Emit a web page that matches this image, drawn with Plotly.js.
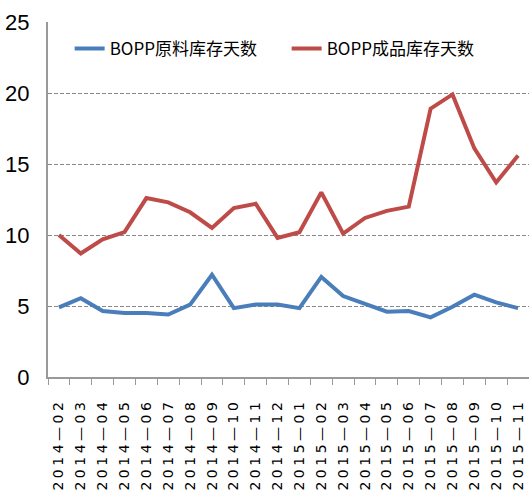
<!DOCTYPE html>
<html>
<head>
<meta charset="utf-8">
<script src="https://cdn.plot.ly/plotly-3.0.1.min.js"></script>
<style>
html,body{margin:0;padding:0;background:#fff;}
#chart{width:529px;height:498px;}
.xtick text{letter-spacing:3.5px;}
</style>
</head>
<body>
<div id="chart"></div>
<script>
var months = ["2014-02","2014-03","2014-04","2014-05","2014-06","2014-07","2014-08","2014-09","2014-10","2014-11","2014-12","2015-01","2015-02","2015-03","2015-04","2015-05","2015-06","2015-07","2015-08","2015-09","2015-10","2015-11"];
var rawDays = [4.9,5.55,4.65,4.5,4.5,4.4,5.1,7.2,4.85,5.1,5.1,4.85,7.05,5.7,5.15,4.6,4.65,4.2,4.95,5.8,5.25,4.85];
var finishedDays = [10.0,8.7,9.7,10.2,12.6,12.3,11.6,10.5,11.9,12.2,9.8,10.2,13.0,10.1,11.2,11.7,12.0,18.9,19.9,16.1,13.7,15.6];
var seriesNames = ["BOPP原料库存天数","BOPP成品库存天数"];
var yTicks = [0,5,10,15,20,25];

var tickLabels = months.map(function(m){ return m.replace("-", "\u2014"); });

var traces = [
  {x: months, y: rawDays, name: seriesNames[0], type: "scatter", mode: "lines",
   line: {color: "#4A7EBB", width: 4}},
  {x: months, y: finishedDays, name: seriesNames[1], type: "scatter", mode: "lines",
   line: {color: "#BE4B48", width: 4}}
];

var layout = {
  width: 529, height: 498,
  margin: {l: 48, r: 0, t: 22, b: 121},
  paper_bgcolor: "#fff", plot_bgcolor: "#fff",
  showlegend: true,
  legend: {orientation: "h", x: 0.045, y: 0.975, xanchor: "left", yanchor: "top",
           entrywidth: 172, entrywidthmode: "pixels",
           font: {family: "Noto Sans CJK SC, sans-serif", size: 17, color: "#000"},
           bgcolor: "rgba(0,0,0,0)"},
  xaxis: {type: "category", range: [-0.5, 21.5], tickvals: months, ticktext: tickLabels,
          tickangle: -90, tickson: "boundaries", ticks: "outside", ticklen: 6, tickcolor: "#999",
          ticklabelstandoff: 14,
          showline: true, linecolor: "#999", linewidth: 2, showgrid: false, zeroline: false,
          tickfont: {family: "DejaVu Sans, sans-serif", size: 14, color: "#000"}},
  yaxis: {range: [0, 25], tickvals: yTicks, ticks: "", showline: true, linecolor: "#999", linewidth: 2,
          showgrid: true, gridcolor: "#888", griddash: "4px,2px", gridwidth: 1, zeroline: false,
          ticklabelstandoff: 12,
          tickfont: {family: "Liberation Sans Narrow, Liberation Sans, sans-serif", size: 22, color: "#000"}}
};

Plotly.newPlot("chart", traces, layout, {displayModeBar: false, staticPlot: true});
</script>
</body>
</html>
